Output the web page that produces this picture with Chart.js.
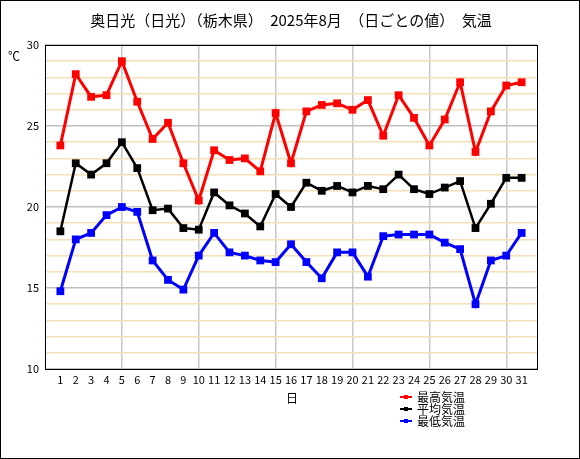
<!DOCTYPE html>
<html>
<head>
<meta charset="utf-8">
<script src="https://cdn.jsdelivr.net/npm/chart.js@4"></script>
<style>
  html, body { margin: 0; padding: 0; background: #fff; }
  #wrap { width: 580px; height: 459px; position: relative; }
</style>
</head>
<body>
<div id="wrap"><canvas id="chart" width="580" height="459"></canvas></div>
<script>
const days = Array.from({ length: 31 }, (_, i) => i + 1);
const maxTemp = [23.8, 28.2, 26.8, 26.9, 29.0, 26.5, 24.2, 25.2, 22.7, 20.4,
  23.5, 22.9, 23.0, 22.2, 25.8, 22.7, 25.9, 26.3, 26.4, 26.0,
  26.6, 24.4, 26.9, 25.5, 23.8, 25.4, 27.7, 23.4, 25.9, 27.5, 27.7];
const avgTemp = [18.5, 22.7, 22.0, 22.7, 24.0, 22.4, 19.8, 19.9, 18.7, 18.6,
  20.9, 20.1, 19.6, 18.8, 20.8, 20.0, 21.5, 21.0, 21.3, 20.9,
  21.3, 21.1, 22.0, 21.1, 20.8, 21.2, 21.6, 18.7, 20.2, 21.8, 21.8];
const minTemp = [14.8, 18.0, 18.4, 19.5, 20.0, 19.7, 16.7, 15.5, 14.9, 17.0,
  18.4, 17.2, 17.0, 16.7, 16.6, 17.7, 16.6, 15.6, 17.2, 17.2,
  15.7, 18.2, 18.3, 18.3, 18.3, 17.8, 17.4, 14.0, 16.7, 17.0, 18.4];
const seriesNames = ["最高気温", "平均気温", "最低気温"];
const seriesColors = ["#ff0000", "#000000", "#0000ff"];
const titleText = "奥日光（日光）（栃木県）　2025年8月　（日ごとの値）　気温";

const font = "'Noto Sans CJK JP', 'DejaVu Sans', sans-serif";

function toPoints(vals) {
  return vals.map((v, i) => ({ x: days[i], y: v }));
}

// title, unit, frame, x title and legend
const extras = {
  id: "extras",
  afterDraw(chart) {
    const ctx = chart.ctx;
    const a = chart.chartArea;
    ctx.save();
    ctx.strokeStyle = "#000";
    ctx.lineWidth = 1;
    ctx.strokeRect(a.left + 0.5, a.top + 0.5, a.right - a.left, a.bottom - a.top);
    ctx.strokeRect(0.5, 0.5, 579, 458);

    ctx.fillStyle = "#000";
    ctx.font = "15px " + font;
    ctx.textAlign = "center";
    ctx.textBaseline = "middle";
    ctx.fillText(titleText, 291, 20);

    ctx.font = "12px " + font;
    ctx.fillText("日", (a.left + a.right) / 2 + 1, 398);

    ctx.textAlign = "left";
    ctx.fillText("℃", 8, 56);

    seriesNames.forEach((name, i) => {
      const y = 397 + i * 12;
      ctx.strokeStyle = seriesColors[i];
      ctx.fillStyle = seriesColors[i];
      ctx.lineWidth = 2;
      ctx.beginPath();
      ctx.moveTo(400, y);
      ctx.lineTo(412, y);
      ctx.stroke();
      ctx.fillRect(404, y - 2, 4, 4);
      ctx.fillStyle = "#000";
      ctx.font = "12px " + font;
      ctx.fillText(name, 417, y);
    });
    ctx.restore();
  }
};

new Chart(document.getElementById("chart"), {
  type: "line",
  data: {
    datasets: [maxTemp, avgTemp, minTemp].map((vals, i) => ({
      label: seriesNames[i],
      data: toPoints(vals),
      borderColor: seriesColors[i],
      backgroundColor: seriesColors[i],
      borderWidth: i === 1 ? 2.5 : 3,
      pointStyle: "rect",
      pointRadius: 5.5,
      pointBorderWidth: 0,
      pointHoverRadius: 5.5,
      tension: 0
    }))
  },
  options: {
    responsive: false,
    animation: false,
    layout: { padding: { top: 45, right: 43, left: 0, bottom: 0 } },
    plugins: { legend: { display: false }, tooltip: { enabled: false } },
    scales: {
      x: {
        type: "linear",
        min: 0,
        max: 32,
        afterFit(scale) { scale.height = 90; },
        ticks: {
          stepSize: 1,
          autoSkip: false,
          maxRotation: 0,
          color: "#000",
          font: { size: 11, family: font },
          padding: 4,
          callback: v => (v >= 1 && v <= 31 ? String(v) : "")
        },
        grid: {
          drawTicks: false,
          color: c => (c.tick.value % 5 === 0 && c.tick.value > 0 && c.tick.value < 32 ? "#c8c8c8" : "rgba(0,0,0,0)"),
          lineWidth: 1.5
        },
        border: { display: false }
      },
      y: {
        min: 10,
        max: 30,
        afterFit(scale) { scale.width = 45; },
        ticks: {
          stepSize: 1,
          autoSkip: false,
          color: "#000",
          font: { size: 11, family: font },
          padding: 6,
          callback: v => (v % 5 === 0 ? String(v) : "")
        },
        grid: {
          drawTicks: false,
          color: c => (c.tick.value % 5 === 0 ? "#c0c0c0" : "#f5dfb8"),
          lineWidth: 1.5
        },
        border: { display: false }
      }
    }
  },
  plugins: [extras]
});
</script>
</body>
</html>
